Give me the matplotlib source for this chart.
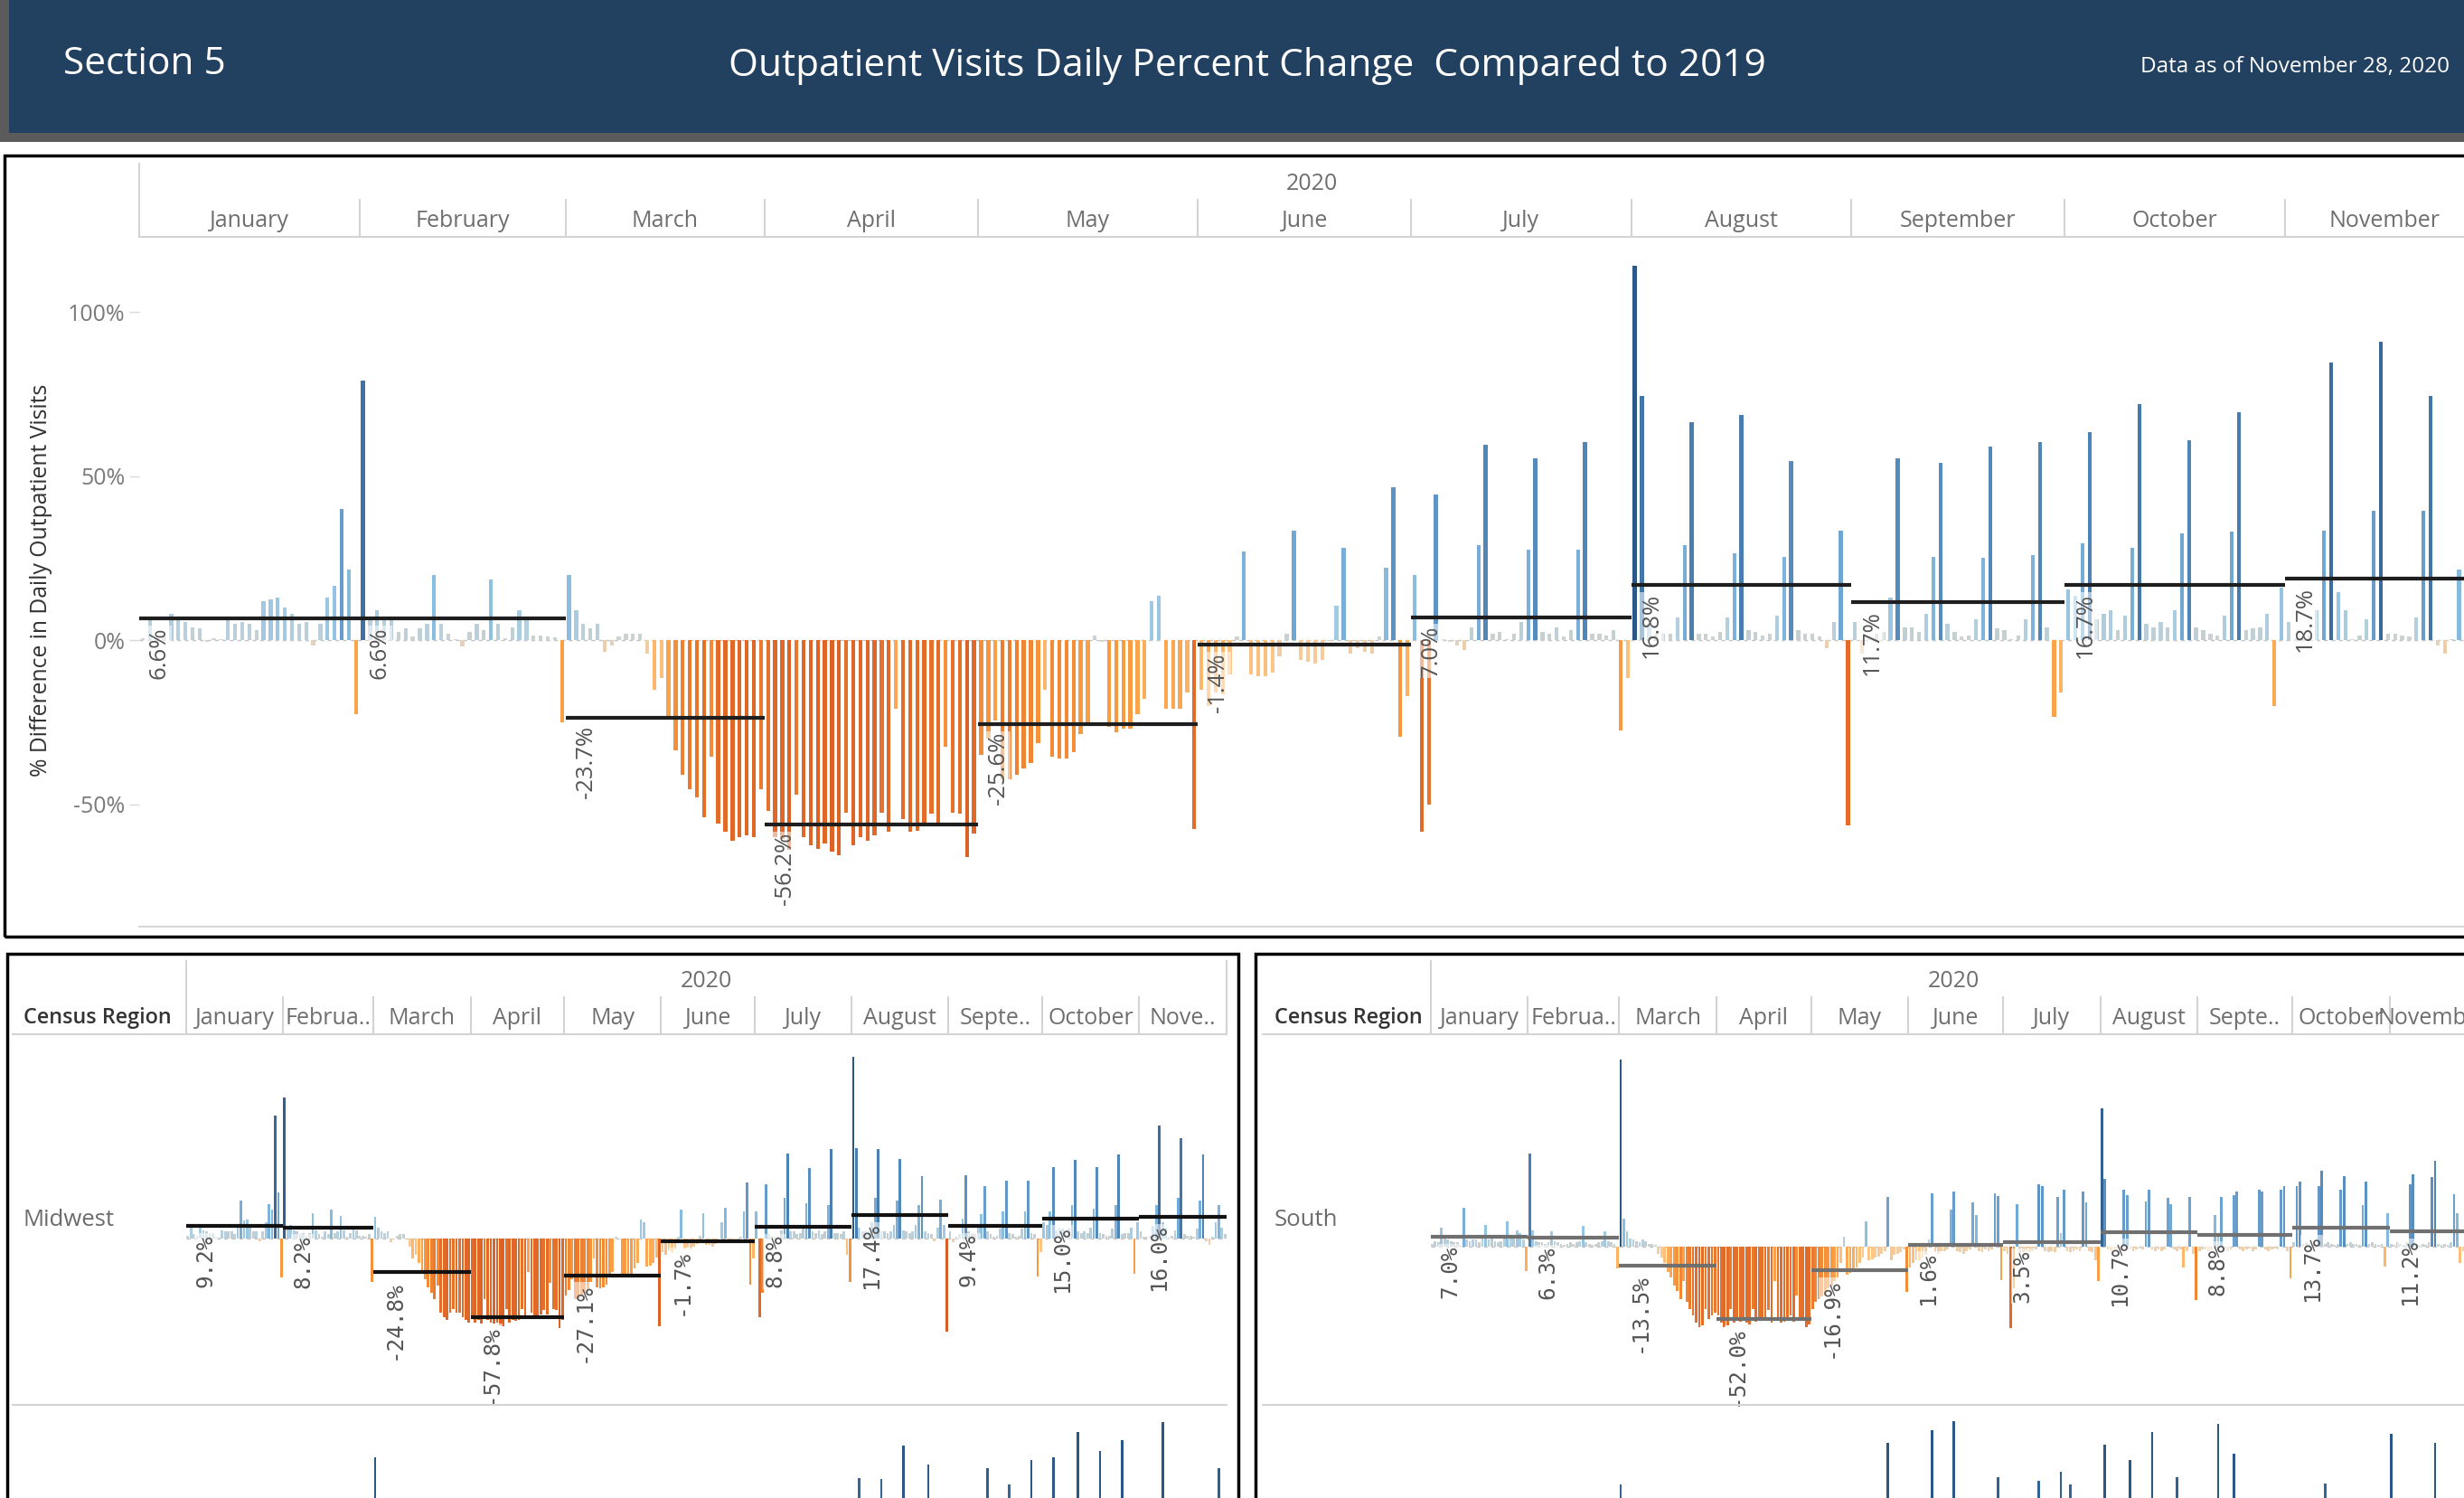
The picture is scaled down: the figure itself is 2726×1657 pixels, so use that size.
import numpy as np
import matplotlib
matplotlib.use('Agg')
import matplotlib.pyplot as plt
from matplotlib.colors import LinearSegmentedColormap, Normalize
from matplotlib.lines import Line2D
from matplotlib.patches import Rectangle
import matplotlib.transforms as mtransforms

plt.rcParams['font.family'] = ['Open Sans', 'DejaVu Sans']

# ---- data (daily % difference vs 2019, one list per month) ----
month_names = ['January', 'February', 'March', 'April', 'May', 'June', 'July',
               'August', 'September', 'October', 'November']
left_month_names = ['January', 'Februa..', 'March', 'April', 'May', 'June', 'July',
                    'August', 'Septe..', 'October', 'Nove..']
right_month_names = ['January', 'Februa..', 'March', 'April', 'May', 'June', 'July',
                     'August', 'Septe..', 'October', 'November']

main_jan = [0.5, 6, 0.5, 1, 8, 6, 5.5, 4, 3.5, -0.5, 0.5, 0.3, 6, 5, 5.5, 5, 3, 12, 12.5, 13,
            10, 8, 5, 5.5, -1.5, 5, 13, 16.5, 40, 21.5, -22.5]
main_feb = [79, 6, 9, 6, 6, 2.5, 3.5, 1, 3.5, 5, 20, 5, 2, 0.3, -2, 2.5, 5, 3, 18.5, 5,
            0.5, 4, 9, 6, 1.5, 1.5, 1, 0.8, -25]
main_mar = [20, 9, 5, 3.5, 5, -3.5, -1.5, 1, 2, 2, 2, -4, -15, -11.5, -23.5, -33.5, -41,
            -45.5, -48, -54, -35.5, -56, -58.5, -61, -60, -59.5, -60, -45.5]
main_apr = [-52, -60, -60.5, -64, -47, -60, -62.5, -63.5, -62, -64.5, -65.5, -52.5, -62.5,
            -60, -61, -59.5, -52.5, -58.5, -21, -54.5, -58.5, -58, -56, -53, -56, -32.5,
            -52.5, -53, -66, -59]
main_may = [-35, -30, -24.5, -42.5, -42.5, -41, -39, -37.5, -31.5, -15, -35.5, -36, -36, -34,
            -28.5, -25, 1.5, -0.5, -26.5, -28, -27, -27, -22.5, -18, 12, 13.5, -21, -21, -21,
            -16, -57.5]
main_jun = [-15, -20, -16, -16.5, -10.5, 1, 27, -10.5, -11, -11, -10, -5, 2, 33.5, -6, -6.5,
            -7, -6, -0.3, 10.5, 28, -4, -2.5, -3.5, -4, 1, 22, 46.5, -29.5, -17]
main_jul = [20, -58.5, -50, 44.5, 0.3, -0.5, -1.5, -3, 4, 29, 59.5, 2, 2.5, 0.3, 2, 5.5, 27.5,
            55.5, 2.5, 2, 4, 1, 3, 27.5, 60.5, 2, 2, 1.5, 3, -27.5, -11.5]
main_aug = [114, 74.5, 5, 2, 2, 2, 7, 29, 66.5, 2, 2, 1, 2.5, 7, 26.5, 68.5, 3, 2.5, 1.5, 2,
            7.5, 25.5, 54.5, 3, 2, 2, 1, -2.5, 5.5, 33.5, -56.5]
main_sep = [5.5, -4, 0.3, 2, 2.5, 13, 55.5, 4, 4, 2.5, 8, 25.5, 54, 5, 2.5, 1, 1.5, 6.5, 25,
            59, 3.5, 3, 0.3, 1.5, 6.5, 26, 60.5, 4, -23.5, -16]
main_oct = [15.5, 13.5, 29.5, 63.5, 6.5, 8, 9, 3, 7.5, 28, 72, 5, 4, 5.5, 4, 9, 32.5, 61, 4,
            3, 2, 1.5, 7.5, 33, 69.5, 3, 3.5, 4, 8, -20, 16]
main_nov = [5.5, 0.5, 1, 1.5, 9, 33.5, 84.5, 14.5, 9, 0.3, 1.5, 6.5, 39.5, 91, 2, 2, 1.5, 1,
            7, 39.5, 74.5, -1.5, -4, 0.3, 21.5, 8, 3, 2]
main_avg = [6.6, 6.6, -23.7, -56.2, -25.6, -1.4, 7.0, 16.8, 11.7, 16.7, 18.7]

mw_jan = [2, 8, 3, 2, 9, 6, 5, 4, 4, 1, 0.5, 6, 5, 5, 5, 3, 10, 28, 13, 14, 8, 5, 5, -2, 5,
          12, 25.5, 21.5, 91, 34, -29]
mw_feb = [104, 8, 10, 6, 5, 3, 4, 2, 4, 19, 6, 3, 1, 5, 3, 21.5, 4, 5, 17, 6, 1, 4, 8, 6, 2,
          2, 1, 3, -32]
mw_mar = [16, 8, 5, 4, 5, -3, -1, 2, 3, 3, -1, -6, -15, -12, -18, -25, -30, -36, -40, -45,
          -35, -55, -58, -60, -55, -52, -55, -55, -58, -60, -62]
mw_apr = [-58, -62, -60, -63, -45, -60, -62, -63, -62, -64, -65, -52, -62, -60, -61, -60, -52,
          -58, -25, -55, -58, -58, -56, -53, -56, -33, -52, -53, -66, -60]
mw_may = [-42, -38, -30, -45, -44, -42, -40, -38, -32, -15, -36, -37, -36, -34, -29, -25, 1, 0,
          -27, -28, -27, -27, -22, -18, 14, 12, -21, -20, -18, -14, -65]
mw_jun = [-10, -12, -9, -10, -8, 1, 21.5, -8, -7, -8, -6, -4, 2, 19, -5, -5, -6, -4, 0, 12, 23,
          -3, -2, -3, -3, 1, 20, 41.5, -34, -15]
mw_jul = [20, -58, -40, 40, 3, 2, 1, 2, 6, 30, 63, 5, 5, 3, 4, 7, 26, 52, 5, 4, 6, 3, 5, 25, 66,
          4, 4, 3, 5, -12, -32]
mw_aug = [134, 67, 8, 5, 5, 5, 12, 30, 66, 6, 5, 4, 5, 10, 28, 59, 6, 5, 4, 5, 10, 25, 46, 5, 4,
          3, -2, 8, 29, 10, -69]
mw_sep = [5, -3, 1, 3, 15, 47, 5, 4, 3, 8, 18, 39, 5, 3, 1, 2, 7, 20, 43, 4, 3, 1, 2, 7, 20, 43,
          4, 3, -28, -10]
mw_oct = [12, 10, 20, 53, 6, 7, 7, 3, 7, 25, 58, 5, 4, 5, 4, 8, 22, 53, 4, 3, 2, 2, 7, 25, 62,
          3, 4, 4, 8, -26, 12]
mw_nov = [5, 1, 1, 2, 9, 25, 83.5, 12, 8, 1, 2, 6, 30, 74, 3, 2, 2, 1, 7, 28, 62, -2, -5, 1, 12,
          25, 8, 3]
mw_avg = [9.2, 8.2, -24.8, -57.8, -27.1, -1.7, 8.8, 17.4, 9.4, 15.0, 16.0]

so_jan = [2, 4, 3, 14, 6, 5, 4, 3, 3, 1, 28, 5, 4, 5, 5, 3, 6, 16, 5, 6, 4, 3, 4, 7, 18, 6, 8,
          12, 10, 5, -17.5]
so_feb = [67, 12, 4, 3, 3, 2, 3, 11, 4, 3, 2, 1, 2, 3, 2, 3, 4, 15, 3, 2, 1, 2, 3, 4, 11, 4, 3,
          2, -16]
so_mar = [135, 20, 11, 6, 5, 4, 3, 5, 4, 2, 2, 1, -5, -8, -12, -18, -22, -28, -32, -38, -25,
          -40, -45, -50, -55, -58, -57, -45, -52, -50, -48]
so_apr = [-50, -55, -58, -57, -45, -55, -53, -54, -52, -55, -56, -45, -54, -52, -53, -52, -46,
          -55, -25, -52, -55, -54, -53, -50, -54, -35, -52, -53, -58, -56]
so_may = [-45, -40, -38, -36, -33, -30, -28, -25, -22, -12, 7, -20, -19, -18, -15, -12, -8, 18.5,
          -10, -9, -8, -7, -5, -3, 36, -10, -6, -5, -4, -2, -33]
so_jun = [-15, -12, -10, -10, -8, -6, 5, 38.5, -4, -5, -3, -3, -2, 27, 40, -3, -4, -5, -3, -2,
          32, 23, -3, -4, -2, -3, -2, 38.5, 36.4, -24]
so_jul = [-3, -5, -59, -30, 31, -5, -4, -3, -4, -3, -2, 45, 44, -3, -4, -3, -4, 36, 10, 41, -3,
          -4, -3, -2, -3, 40, 32, -3, -4, -10, -25]
so_aug = [100, 49, -2, -3, -2, -1, -3, 41, 37.5, -2, -3, -2, -1, -2, 33, 41, -2, -3, -2, -3, -2,
          35, 31, -2, -3, -2, -15, -3, 36, -5, -38.8]
so_sep = [-3, -2, -2, -3, -2, 23, 10, 36, -2, -3, -2, 37.5, 40, -2, -3, -2, -1, -3, -2, 41, 40,
          -2, -3, -2, -1, -2, 41, 44, -3, -22.6]
so_oct = [3, 43.5, 47, 2, 3, 2, 1, 2, 44, 55, 2, 3, 2, 1, 2, 41, 51, 2, 3, 2, 2, 1, 30, 47, 2,
          3, 2, 1, 2, -14.7, 24]
so_nov = [2, 1, 3, 2, 1, 3, 45, 52, 2, 1, 2, 1, 3, 50, 62, 2, 1, 2, 1, 3, 38, 24, -12, -3, 2, 1,
          30, 40]
so_avg = [7.0, 6.3, -13.5, -52.0, -16.9, 1.6, 3.5, 10.7, 8.8, 13.7, 11.2]

# next row of the regional panels (only the tall spikes show above the crop)
row3_left_dates = ['2020-03-01', '2020-08-03', '2020-08-10', '2020-08-17', '2020-08-25',
                   '2020-09-13', '2020-09-20', '2020-09-27', '2020-10-04', '2020-10-12',
                   '2020-10-19', '2020-10-26', '2020-11-08', '2020-11-26']
row3_left_vals = [112, 97, 96, 121, 107, 104, 92, 110, 112, 131, 117, 125, 138, 104]
row3_right_dates = ['2020-03-01', '2020-05-25', '2020-06-08', '2020-06-15', '2020-06-29',
                    '2020-07-12', '2020-07-19', '2020-07-22', '2020-08-02', '2020-08-10',
                    '2020-08-17', '2020-08-25', '2020-09-07', '2020-09-12', '2020-10-11',
                    '2020-11-01', '2020-11-15']
row3_right_vals = [96, 126, 135, 142, 101, 99, 105, 96, 125, 114, 134, 101, 140, 118, 97, 133, 126]

main_months = [main_jan, main_feb, main_mar, main_apr, main_may, main_jun, main_jul, main_aug,
               main_sep, main_oct, main_nov]
mw_months = [mw_jan, mw_feb, mw_mar, mw_apr, mw_may, mw_jun, mw_jul, mw_aug, mw_sep, mw_oct, mw_nov]
so_months = [so_jan, so_feb, so_mar, so_apr, so_may, so_jun, so_jul, so_aug, so_sep, so_oct, so_nov]

# ---- colour scale (orange-blue diverging) ----
c_vals = [-68, -45, -30, -18, -8, -2, 0, 3, 6, 12, 20, 30, 45, 60, 80, 115]
c_cols = ['#da5f24', '#ec7a2d', '#f7963c', '#fdae5a', '#fcc98f', '#e8d1b3', '#d2d4d0', '#c4cfd1',
          '#b6cfdc', '#9dc8e3', '#8bbfe0', '#75aad6', '#5f95c5', '#5086b8', '#3f70a3', '#2b5787']
vmin, vmax = c_vals[0], c_vals[-1]
cmap = LinearSegmentedColormap.from_list(
    'ob', [((v - vmin) / (vmax - vmin), c) for v, c in zip(c_vals, c_cols)])
norm = Normalize(vmin=vmin, vmax=vmax, clip=True)

W, H, DPI = 2726, 1657, 100
fig = plt.figure(figsize=(W / DPI, H / DPI), dpi=DPI)
fig.patch.set_facecolor('white')


def fbox(x0, y0, x1, y1):
    return [x0 / W, 1 - y1 / H, (x1 - x0) / W, (y1 - y0) / H]


def fline(x0, y0, x1, y1, color='#d3d3d3', lw=1.5):
    fig.add_artist(Line2D([x0 / W, x1 / W], [1 - y0 / H, 1 - y1 / H], color=color, lw=lw,
                          transform=fig.transFigure))


def frect(x0, y0, x1, y1, fc='none', ec='none', lw=0):
    fig.add_artist(Rectangle((x0 / W, 1 - y1 / H), (x1 - x0) / W, (y1 - y0) / H,
                             transform=fig.transFigure, fc=fc, ec=ec, lw=lw))


def draw_bars(ax, months, avgs, line_color, label_family, label_size, bar_w, line_w):
    vals = np.concatenate([np.asarray(m, dtype=float) for m in months])
    x = np.arange(len(vals))
    ax.bar(x, vals, width=bar_w, color=cmap(norm(vals)), zorder=2, linewidth=0)
    ax.axhline(0, color='#c4c4c4', lw=1.0, ls=(0, (3, 3)), zorder=1)
    edges = np.concatenate([[0], np.cumsum([len(m) for m in months])]) - 0.5
    tr = mtransforms.offset_copy(ax.transData, fig=fig, x=10, y=-9, units='dots')
    for i, a in enumerate(avgs):
        ax.hlines(a, edges[i], edges[i + 1], color=line_color, lw=line_w, zorder=3)
        ax.text(edges[i], a, f'{a:.1f}%', transform=tr, rotation=90, ha='left', va='top',
                fontsize=label_size, family=label_family, color='#555555', zorder=4,
                bbox=dict(boxstyle='square,pad=0.05', fc='white', ec='none', alpha=0.55))
    ax.set_xlim(edges[0], edges[-1])
    ax.set_facecolor('none')
    for s in ax.spines.values():
        s.set_visible(False)
    return edges


def draw_header(rect, edges, names, right_line=False):
    hx = fig.add_axes(rect)
    hx.set_xlim(edges[0], edges[-1])
    hx.set_ylim(0, 1)
    hx.axis('off')
    hx.plot([edges[0], edges[0]], [0, 1], color='#d3d3d3', lw=1.5, clip_on=False)
    for e in edges[1:-1]:
        hx.plot([e, e], [0, 0.506], color='#d3d3d3', lw=1.5)
    if right_line:
        hx.plot([edges[-1], edges[-1]], [0, 1], color='#d3d3d3', lw=1.5, clip_on=False)
    hx.plot([edges[0], edges[-1]], [0, 0], color='#d3d3d3', lw=1.5, clip_on=False)
    for i, nm in enumerate(names):
        hx.text((edges[i] + edges[i + 1]) / 2, 0.222, nm, ha='center', va='center',
                fontsize=18, color='#6e6e6e')
    hx.text((edges[0] + edges[-1]) / 2, 0.728, '2020', ha='center', va='center',
            fontsize=18, color='#6e6e6e')


# ---- header band ----
frect(0, 0, W, 157, fc='#5b5b5b')
frect(10, 0, W, 147, fc='#22405f')
fig.text(70 / W, 1 - 71 / H, 'Section 5', color='white', fontsize=30.5, va='center', ha='left')
fig.text(1380 / W, 1 - 73 / H, 'Outpatient Visits Daily Percent Change  Compared to 2019',
         color='white', fontsize=30.5, va='center', ha='center')
fig.text(2710 / W, 1 - 74 / H, 'Data as of November 28, 2020', color='white', fontsize=17.5,
         va='center', ha='right')

# ---- main chart ----
ax = fig.add_axes(fbox(154, 262, 2748, 1025))
edges = draw_bars(ax, main_months, main_avg, '#1e1e1e', ['Open Sans', 'DejaVu Sans'], 18.5,
                  0.55, 3.0)
ax.set_ylim(-87.3, 122.9)
ax.set_yticks([-50, 0, 50, 100])
ax.set_yticklabels(['-50%', '0%', '50%', '100%'])
ax.tick_params(axis='y', length=8, width=1, color='#d9d9d9', labelcolor='#7a7a7a',
               labelsize=18, pad=3)
ax.set_xticks([])
ax.spines['bottom'].set_visible(True)
ax.spines['bottom'].set_color('#d6d6d6')
ax.spines['bottom'].set_linewidth(1.5)
draw_header(fbox(154, 181, 2748, 262), edges, month_names)
fig.text(46 / W, 1 - 642 / H, '% Difference in Daily Outpatient Visits', rotation=90,
         ha='center', va='center', fontsize=17.8, color='#333333')
frect(5, 172, 2745, 1036, ec='black', lw=2.5)

# ---- regional panels ----
mono = ['DejaVu Sans Mono']
panels = [
    dict(months=mw_months, avgs=mw_avg, color='#111111', x0=206, x1=1357, ylim=(-122.7, 150.7),
         names=left_month_names, name='Midwest', lx=26, box=(8, 1055, 1370, 1720),
         rdates=row3_left_dates, rvals=row3_left_vals, under=(14, 206), sep=(14, 1357),
         right_line=True),
    dict(months=so_months, avgs=so_avg, color='#707070', x0=1582.6, x1=2741, ylim=(-114.4, 153.6),
         names=right_month_names, name='South', lx=1410, box=(1389, 1055, 2765, 1720),
         rdates=row3_right_dates, rvals=row3_right_vals, under=(1397, 1582.6), sep=(1397, 2726),
         right_line=False),
]
for p in panels:
    rax = fig.add_axes(fbox(p['x0'], 1144, p['x1'], 1554))
    redges = draw_bars(rax, p['months'], p['avgs'], p['color'], mono, 17.5, 0.8, 3.0)
    rax.set_ylim(*p['ylim'])
    rax.set_xticks([])
    rax.set_yticks([])
    draw_header(fbox(p['x0'], 1063, p['x1'], 1144), redges, p['names'], p['right_line'])
    fig.text(p['lx'] / W, 1 - 1126 / H, 'Census Region', fontsize=16.8, fontweight='semibold',
             color='#333333', va='center', ha='left')
    fig.text(p['lx'] / W, 1 - 1350 / H, p['name'], fontsize=18.5, color='#6b6b6b',
             va='center', ha='left')
    fline(p['under'][0], 1144, p['under'][1], 1144)
    fline(p['sep'][0], 1554, p['sep'][1], 1554)

    # next region row (only tops visible)
    nax = fig.add_axes(fbox(p['x0'], 1554, p['x1'], 1964))
    days = (np.array(p['rdates'], dtype='datetime64[D]') - np.datetime64('2020-01-01')).astype(int)
    rv = np.array(p['rvals'], dtype=float)
    nax.bar(days, rv, width=0.8, color=cmap(norm(rv)), linewidth=0)
    nax.set_xlim(redges[0], redges[-1])
    nax.set_ylim(*p['ylim'])
    nax.axis('off')
    frect(*p['box'], ec='black', lw=2.5)

fig.savefig('out.png', dpi=DPI)
